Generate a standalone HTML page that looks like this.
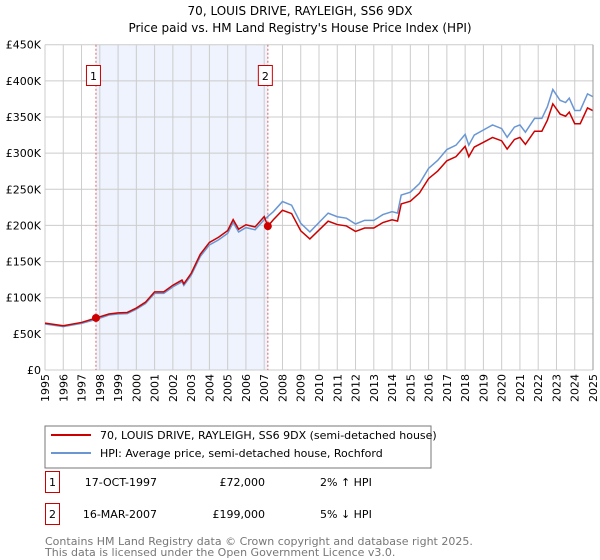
<!DOCTYPE html>
<html><head><meta charset="utf-8"><style>
body{margin:0;background:#fff;font-family:"Liberation Sans","DejaVu Sans",sans-serif;}
#wrap{position:relative;width:600px;height:560px;overflow:hidden;}
svg text{font-family:"DejaVu Sans","Liberation Sans",sans-serif;}
</style></head><body>
<div id="wrap">
<svg id="chart" width="600" height="560">
<text x="300" y="15" text-anchor="middle" font-size="12">70, LOUIS DRIVE, RAYLEIGH, SS6 9DX</text>
<text x="300" y="32" text-anchor="middle" font-size="12">Price paid vs. HM Land Registry's House Price Index (HPI)</text>
<g id="grid"></g><g id="marks"></g>
<rect x="45" y="426" width="386" height="42" fill="#fff" stroke="#777"/>
<line x1="51" y1="435" x2="91" y2="435" stroke="#cc0000" stroke-width="2"/>
<text x="100" y="439" font-size="11">70, LOUIS DRIVE, RAYLEIGH, SS6 9DX (semi-detached house)</text>
<line x1="51" y1="453" x2="91" y2="453" stroke="#6a97d4" stroke-width="2"/>
<text x="100" y="457" font-size="11">HPI: Average price, semi-detached house, Rochford</text>
<g>
<rect x="45.5" y="471.5" width="14" height="21" fill="#fff" stroke="#cc0000"/>
<text x="52.5" y="486" text-anchor="middle" font-size="11">1</text>
<text x="157" y="486" text-anchor="end" font-size="11">17-OCT-1997</text>
<text x="265" y="486" text-anchor="end" font-size="11">£72,000</text>
<text x="320" y="486" font-size="11">2% ↑ HPI</text></g>
<g>
<rect x="45.5" y="503.5" width="14" height="21" fill="#fff" stroke="#cc0000"/>
<text x="52.5" y="518" text-anchor="middle" font-size="11">2</text>
<text x="157" y="518" text-anchor="end" font-size="11">16-MAR-2007</text>
<text x="265" y="518" text-anchor="end" font-size="11">£199,000</text>
<text x="320" y="518" font-size="11">5% ↓ HPI</text></g>
<text x="45" y="545" font-size="11" fill="#777">Contains HM Land Registry data © Crown copyright and database right 2025.</text>
<text x="45" y="556" font-size="11" fill="#777">This data is licensed under the Open Government Licence v3.0.</text>
</svg></div>
<script>
const hpiYears=[1995,1996,1997,1997.8,1998.5,1999,1999.5,2000,2000.5,2001,2001.5,2002,2002.5,2002.6,2003,2003.5,2004,2004.5,2005,2005.3,2005.6,2006,2006.5,2007,2007.5,2008,2008.5,2009,2009.5,2010,2010.5,2011,2011.5,2012,2012.5,2013,2013.5,2014,2014.3,2014.5,2015,2015.5,2016,2016.5,2017,2017.5,2018,2018.2,2018.5,2019,2019.5,2020,2020.3,2020.7,2021,2021.3,2021.8,2022.2,2022.5,2022.8,2023.2,2023.5,2023.7,2024,2024.3,2024.7,2025];
const hpiValues=[63.6,60,64.5,70,76,77.4,78,84,92,106,106,115,122,117,131,157,173,180,189,204,191,197,194,208,219,233,228,203,191,204,217,212,210,202,207,207,215,219,217,242,246,258,279,290,305,311,326,311,325,332,339,334,322,336,339,329,348,348,364,388,373,370,376,359,359,382,378];
const priceYears=[1995,1996,1997,1997.8,1998.5,1999,1999.5,2000,2000.5,2001,2001.5,2002,2002.5,2002.6,2003,2003.5,2004,2004.5,2005,2005.3,2005.6,2006,2006.5,2007,2007.2,2007.5,2008,2008.5,2009,2009.5,2010,2010.5,2011,2011.5,2012,2012.5,2013,2013.5,2014,2014.3,2014.5,2015,2015.5,2016,2016.5,2017,2017.5,2018,2018.2,2018.5,2019,2019.5,2020,2020.3,2020.7,2021,2021.3,2021.8,2022.2,2022.5,2022.8,2023.2,2023.5,2023.7,2024,2024.3,2024.7,2025];
const priceValues=[64.9,61.2,65.8,72,77.5,79,79.6,85.7,93.8,108.1,108.1,117.3,124.4,119.3,133.6,160.1,176.5,183.6,192.8,208.1,194.8,200.9,197.9,212.2,199,207.8,221,216.4,192.6,181.3,193.6,205.9,201.2,199.3,191.7,196.4,196.4,204,207.8,206,229.7,233.5,244.8,264.8,275.2,289.4,295.1,309.4,295.1,308.4,315,321.7,317,305.6,318.9,321.7,312.2,330.3,330.3,345.4,368.2,354,351.1,356.8,340.7,340.7,362.5,358.7];
const saleYears=[1997.79,2007.2];
const saleValues=[72,199];
const saleLabels=['1','2'];
const yTicks=[0,50,100,150,200,250,300,350,400,450];
const yTickLabels=['£0','£50K','£100K','£150K','£200K','£250K','£300K','£350K','£400K','£450K'];
const xTicks=[];for(let y=1995;y<=2025;y++)xTicks.push(y);
const X0=45,X1=593,Y0=370,Y1=44.7;
const sx=v=>X0+(v-1995)/30*(X1-X0);
const sy=v=>Y0-v/450*(Y0-Y1);
const NS='http://www.w3.org/2000/svg';
function mk(tag,attrs,parent){const e=document.createElementNS(NS,tag);for(const k in attrs)e.setAttribute(k,attrs[k]);parent.appendChild(e);return e;}
const grid=document.getElementById('grid'),marks=document.getElementById('marks');
const shade=mk('rect',{x:sx(saleYears[0]),y:Y1,width:sx(saleYears[1])-sx(saleYears[0]),height:Y0-Y1,fill:'#eef3fd'},grid);


xTicks.forEach(t=>{
 const l=mk('line',{x1:sx(t),x2:sx(t),y1:Y1,y2:Y0,stroke:'#cccccc'},grid);
 
 
 const tx=mk('text',{x:0,y:0,'font-size':11,'text-anchor':'end',transform:`translate(${sx(t)+4},374) rotate(-90)`},grid);
 tx.textContent=t;
 
 
});
yTicks.forEach((t,i)=>{
 const l=mk('line',{x1:X0,x2:X1,y1:sy(t),y2:sy(t),stroke:'#cccccc'},grid);
 
 
 const tx=mk('text',{x:X0-4,y:sy(t)+4,'font-size':11,'text-anchor':'end'},grid);
 tx.textContent=yTickLabels[i];
 
 
});
saleYears.forEach((y,i)=>{
 const l=mk('line',{x1:sx(y),x2:sx(y),y1:Y1,y2:Y0,stroke:'#e06060','stroke-dasharray':'2,2'},marks);
 
 
 const b=mk('rect',{x:sx(y)-9.5,y:65.5,width:14,height:20,fill:'#fff',stroke:'#cc0000'},marks);
 
 
 const t=mk('text',{x:sx(y)-2.5,y:80,'font-size':11,'text-anchor':'middle'},marks);
 t.textContent=saleLabels[i];
 
 
});
const hp=mk('polyline',{points:hpiYears.map((y,i)=>sx(y)+','+sy(hpiValues[i])).join(' '),fill:'none',stroke:'#6a97d4','stroke-width':1.5},marks);


const pp=mk('polyline',{points:priceYears.map((y,i)=>sx(y)+','+sy(priceValues[i])).join(' '),fill:'none',stroke:'#cc0000','stroke-width':1.5},marks);


saleYears.forEach((y,i)=>{
 const c=mk('circle',{cx:sx(y),cy:sy(saleValues[i]),r:4,fill:'#cc0000'},marks);
 
 
});
const ax=mk('line',{x1:X1,x2:X1,y1:Y1,y2:Y0,stroke:'#999'},marks);


</script>
</body></html>
